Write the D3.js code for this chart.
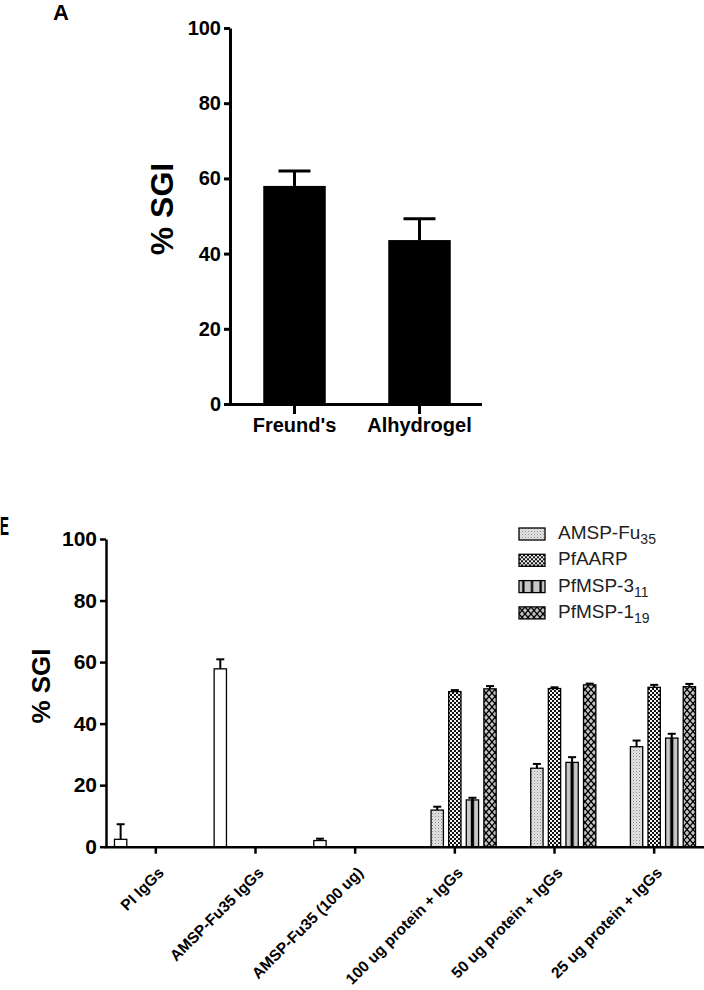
<!DOCTYPE html>
<html>
<head>
<meta charset="utf-8">
<script src="https://cdn.jsdelivr.net/npm/d3@7"></script>
<style>
  body { margin: 0; background: #fff; }
  svg { display: block; font-family: "Liberation Sans", Arial, sans-serif; }
</style>
</head>
<body>
<div class="canvas"></div>
<script>
// ---- data ----
// panel A
const adjuvants = ["Freund's", "Alhydrogel"]
const adjuvantSGI = [58, 43.6]
const adjuvantSEM = [4, 5.7]

// panel E
const groups = ["PI IgGs", "AMSP-Fu35 IgGs", "AMSP-Fu35 (100 ug)",
                "100 ug protein + IgGs", "50 ug protein + IgGs", "25 ug protein + IgGs"]
const seriesKeys = ["control", "amsp", "aarp", "msp3", "msp1"]
const controlSGI = [2.4, 57.8, 2.0, null, null, null]
const controlSEM = [4.9, 3.1, 0.6, null, null, null]
const amspSGI = [null, null, null, 11.9, 25.5, 32.5]
const amspSEM = [null, null, null, 1.1, 1.4, 2.0]
const aarpSGI = [null, null, null, 50.4, 51.4, 51.8]
const aarpSEM = [null, null, null, 0.5, 0.4, 0.8]
const msp3SGI = [null, null, null, 15.2, 27.4, 35.3]
const msp3SEM = [null, null, null, 0.7, 1.7, 1.4]
const msp1SGI = [null, null, null, 51.3, 52.6, 52.0]
const msp1SEM = [null, null, null, 0.9, 0.4, 0.9]
const legendNames = [["AMSP-Fu", "35"], ["PfAARP", ""], ["PfMSP-3", "11"], ["PfMSP-1", "19"]]
const yTicks = [0, 20, 40, 60, 80, 100]

const FONT = '"Liberation Sans", Arial, sans-serif'

const svg = d3.select('.canvas')
              .append('svg')
              .attr('width', 704)
              .attr('height', 990)

// ---- patterns ----
const defs = svg.append('defs')

const dots = defs.append('pattern').attr('id', 'p-amsp')
                 .attr('patternUnits', 'userSpaceOnUse').attr('width', 3).attr('height', 3)
dots.append('rect').attr('width', 3).attr('height', 3).attr('fill', '#e4e4e4')
dots.append('rect').attr('x', 0).attr('y', 0).attr('width', 1).attr('height', 1).attr('fill', '#8a8a8a')
dots.append('rect').attr('x', 1.5).attr('y', 1.5).attr('width', 1).attr('height', 1).attr('fill', '#b0b0b0')

const check = defs.append('pattern').attr('id', 'p-aarp')
                  .attr('patternUnits', 'userSpaceOnUse').attr('width', 4).attr('height', 4)
check.append('rect').attr('width', 4).attr('height', 4).attr('fill', '#f4f4f4')
check.append('rect').attr('width', 2).attr('height', 2).attr('fill', '#111')
check.append('rect').attr('x', 2).attr('y', 2).attr('width', 2).attr('height', 2).attr('fill', '#111')

// stripes: one per bar, three in the legend swatch
const stripes = (id, n) => {
  const p = defs.append('pattern').attr('id', id)
                .attr('patternUnits', 'objectBoundingBox')
                .attr('patternContentUnits', 'objectBoundingBox')
                .attr('width', 1 / n).attr('height', 1)
  p.append('rect').attr('width', 1 / n).attr('height', 1).attr('fill', '#c8c8c8')
  p.append('rect').attr('x', 0.37 / n).attr('width', 0.26 / n).attr('height', 1).attr('fill', '#000')
}
stripes('p-msp3', 1)
stripes('p-msp3-leg', 3)

const hatch = defs.append('pattern').attr('id', 'p-msp1')
                  .attr('patternUnits', 'userSpaceOnUse').attr('width', 6).attr('height', 7)
hatch.append('rect').attr('width', 6).attr('height', 7).attr('fill', '#c4c4c4')
hatch.append('path').attr('d', 'M0,0 L6,7 M6,0 L0,7')
     .attr('stroke', '#000').attr('stroke-width', 1.3)

const fills = { control: '#fff', amsp: 'url(#p-amsp)', aarp: 'url(#p-aarp)',
                msp3: 'url(#p-msp3)', msp1: 'url(#p-msp1)' }

// ---- panel A ----
const xA = d3.scaleBand().domain(adjuvants).range([232, 482]).paddingInner(0.5).paddingOuter(0.25)
const yA = d3.scaleLinear().domain([0, 100]).range([404, 28])

svg.append('text').attr('x', 53).attr('y', 20)
   .attr('font-size', 22).attr('font-weight', 'bold').text('A')

const gA = svg.append('g')

gA.append('g').attr('class', 'axis')
  .attr('transform', 'translate(230,0)')
  .call(d3.axisLeft(yA).tickValues(yTicks).tickSize(6).tickPadding(3).tickSizeOuter(0))
  .attr('font-family', FONT)
  .call(g => g.selectAll('text').attr('font-size', 20).attr('font-weight', 'bold'))
  .call(g => g.selectAll('path, line').attr('stroke-width', 3))

gA.selectAll('.barA')
  .data(adjuvants)
  .enter().append('rect')
  .attr('class', 'barA')
  .attr('x', d => xA(d))
  .attr('width', xA.bandwidth())
  .attr('y', (d, i) => yA(adjuvantSGI[i]))
  .attr('height', (d, i) => yA(0) - yA(adjuvantSGI[i]))
  .attr('fill', '#000')

const errA = gA.selectAll('.errA').data(adjuvants).enter().append('g').attr('class', 'errA')
errA.append('line')
    .attr('x1', d => xA(d) + xA.bandwidth() / 2).attr('x2', d => xA(d) + xA.bandwidth() / 2)
    .attr('y1', (d, i) => yA(adjuvantSGI[i])).attr('y2', (d, i) => yA(adjuvantSGI[i] + adjuvantSEM[i]))
errA.append('line')
    .attr('x1', d => xA(d) + xA.bandwidth() / 2 - 16).attr('x2', d => xA(d) + xA.bandwidth() / 2 + 16)
    .attr('y1', (d, i) => yA(adjuvantSGI[i] + adjuvantSEM[i]))
    .attr('y2', (d, i) => yA(adjuvantSGI[i] + adjuvantSEM[i]))
errA.selectAll('line').attr('stroke', '#000').attr('stroke-width', 3)

gA.append('g')
  .attr('transform', `translate(0,${yA(0)})`)
  .call(d3.axisBottom(xA).tickSize(10).tickPadding(4).tickSizeOuter(0))
  .attr('font-family', FONT)
  .call(g => g.select('.domain').attr('d', 'M228.5,0.5H482'))
  .call(g => g.selectAll('text').attr('font-size', 20).attr('font-weight', 'bold'))
  .call(g => g.selectAll('path, line').attr('stroke-width', 3))

gA.append('text')
  .attr('transform', 'translate(173,209) rotate(-90)')
  .attr('text-anchor', 'middle')
  .attr('font-size', 32).attr('font-weight', 'bold')
  .text('% SGI')

// ---- panel E ----
const xE = d3.scaleBand().domain(groups).range([106, 704])
const xInner = d3.scaleBand().domain(seriesKeys).range([-44, 44]).paddingInner(0.3).paddingOuter(0.15)
const yE = d3.scaleLinear().domain([0, 100]).range([846.7, 539])

svg.append('text').attr('x', 0).attr('y', 535)
   .attr('font-size', 26).attr('font-weight', 'bold')
   .attr('textLength', 9).attr('lengthAdjust', 'spacingAndGlyphs')
   .text('E')

const gE = svg.append('g')

gE.append('g')
  .attr('transform', 'translate(106,0)')
  .call(d3.axisLeft(yE).tickValues(yTicks).tickSize(6).tickPadding(3).tickSizeOuter(0))
  .attr('font-family', FONT)
  .call(g => g.selectAll('text').attr('font-size', 21).attr('font-weight', 'bold'))
  .call(g => g.selectAll('path, line').attr('stroke-width', 2.5))

const seriesVals = { control: controlSGI, amsp: amspSGI, aarp: aarpSGI, msp3: msp3SGI, msp1: msp1SGI }
const seriesErr = { control: controlSEM, amsp: amspSEM, aarp: aarpSEM, msp3: msp3SEM, msp1: msp1SEM }

const rows = []
seriesKeys.forEach(k => {
  groups.forEach((g, i) => {
    if (seriesVals[k][i] != null) rows.push({ key: k, group: g, v: seriesVals[k][i], e: seriesErr[k][i] })
  })
})
const cx = d => xE(d.group) + xE.bandwidth() / 2 + xInner(d.key) + xInner.bandwidth() / 2

const errE = gE.selectAll('.errE').data(rows).enter().append('g').attr('class', 'errE')
errE.append('line')
    .attr('x1', cx).attr('x2', cx)
    .attr('y1', d => yE(d.v)).attr('y2', d => yE(d.v + d.e))
errE.append('line')
    .attr('x1', d => cx(d) - 4).attr('x2', d => cx(d) + 4)
    .attr('y1', d => yE(d.v + d.e)).attr('y2', d => yE(d.v + d.e))
errE.selectAll('line').attr('stroke', '#000').attr('stroke-width', 2)

gE.selectAll('.barE')
  .data(rows)
  .enter().append('rect')
  .attr('class', 'barE')
  .attr('x', d => xE(d.group) + xE.bandwidth() / 2 + xInner(d.key))
  .attr('width', xInner.bandwidth())
  .attr('y', d => yE(d.v))
  .attr('height', d => yE(0) - yE(d.v))
  .attr('fill', d => fills[d.key])
  .attr('stroke', '#000')
  .attr('stroke-width', 1.3)

gE.append('g')
  .attr('transform', `translate(0,${yE(0)})`)
  .call(d3.axisBottom(xE).tickSize(7).tickSizeOuter(0))
  .attr('font-family', FONT)
  .call(g => g.select('.domain').attr('d', 'M104.75,0.5H704'))
  .call(g => g.selectAll('path, line').attr('stroke-width', 2.5))
  .call(g => g.selectAll('text')
              .attr('font-size', 15.5).attr('font-weight', 'bold')
              .attr('text-anchor', 'end')
              .attr('dy', null).attr('y', null)
              .attr('transform', 'translate(9,27) rotate(-45)'))

gE.append('text')
  .attr('transform', 'translate(50,686) rotate(-90)')
  .attr('text-anchor', 'middle')
  .attr('font-size', 26).attr('font-weight', 'bold')
  .text('% SGI')

// legend
const legFills = ['url(#p-amsp)', 'url(#p-aarp)', 'url(#p-msp3-leg)', 'url(#p-msp1)']
const leg = gE.selectAll('.leg').data(legendNames).enter().append('g')
              .attr('class', 'leg')
              .attr('transform', (d, i) => `translate(519,${528 + i * 26.3})`)
leg.append('rect').attr('width', 26).attr('height', 12)
   .attr('fill', (d, i) => legFills[i]).attr('stroke', '#000').attr('stroke-width', 1.3)
const lt = leg.append('text').attr('x', 39).attr('y', 11)
              .attr('font-size', 19).attr('fill', '#222')
lt.append('tspan').text(d => d[0])
lt.append('tspan').attr('font-size', 14).attr('dy', 5).text(d => d[1])
</script>
</body>
</html>
